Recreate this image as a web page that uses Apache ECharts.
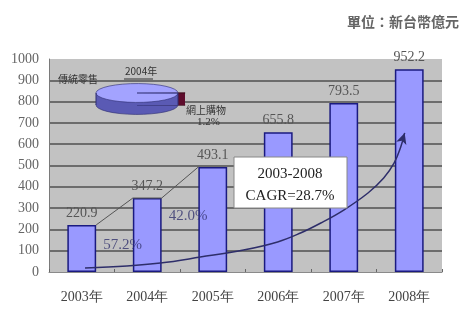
<!DOCTYPE html>
<html>
<head>
<meta charset="utf-8">
<script src="https://cdn.jsdelivr.net/npm/echarts@6/dist/echarts.min.js"></script>
<style>
html,body{margin:0;padding:0;background:#fff;}
#main{width:470px;height:315px;}
</style>
</head>
<body>
<div id="main"></div>
<script>
// 數據
var years = ['2003年', '2004年', '2005年', '2006年', '2007年', '2008年'];
var sales = [220.9, 347.2, 493.1, 655.8, 793.5, 952.2];
var growth = ['57.2%', '42.0%'];
var unitText = '單位：新台幣億元';
var pieYear = '2004年';
var pieNames = ['傳統零售', '網上購物'];
var pieShares = [98.8, 1.2];
var cagrText = ['2003-2008', 'CAGR=28.7%'];
// 趨勢箭頭
var curveX = [0.05, 0.69, 1.20, 1.81, 2.47, 2.99, 3.34, 3.65, 4.00, 4.37, 4.61, 4.77, 4.87, 4.93];
var curveY = [19, 28, 42, 70, 103, 141, 183, 230, 291, 371, 441, 512, 587, 653];

var serif = 'Liberation Serif';
var hw = 0.22; // 半個柱寬 (類別單位)

// 柱頂連線
var stepData = [];
for (var i = 0; i < growth.length; i++) {
	stepData.push([i + hw, sales[i]]);
	stepData.push([i + 1 - hw, sales[i + 1]]);
}
// 增長率標籤位置 = 連線中點
var growthPts = [];
for (var i = 0; i < growth.length; i++) {
	growthPts.push([i + 0.5, (sales[i] + sales[i + 1]) / 2]);
}
var curveData = [];
for (var i = 0; i < curveX.length; i++) {
	var item = {value: [curveX[i], curveY[i]]};
	if (i == curveX.length - 1) {
		item.symbol = 'arrow';
		item.symbolSize = [8, 11];
		item.symbolRotate = -18;
	}
	curveData.push(item);
}

var splitColors = [];
for (var i = 0; i <= 10; i++) {
	splitColors.push(i == 0 || i == 10 ? 'rgba(0,0,0,0)' : '#6c6c6c');
}

function pieItem(params, api) {
	var idx = params.dataIndex;
	var cx = 137, cy = 93, r = 41, k = 0.23, depth = 12;
	var start = pieShares[1] / 2 / 100 * Math.PI * 2;
	for (var j = 0; j < idx; j++) start += pieShares[j] / 100 * Math.PI * 2;
	var end = start + api.value(0) / 100 * Math.PI * 2;
	var big = idx == 0;
	var dx = big ? 0 : 7;
	var top = big ? '#a3a3ff' : '#8a2a4a';
	var side = big ? '#5a5ab4' : '#5e0c2c';
	var edge = big ? '#2e2e70' : '#3a0818';
	var z = big ? 10 : 1;
	var children = [
		{type: 'group', x: cx + dx, y: cy + depth, scaleY: k, children: [
			{type: 'sector', z2: z, shape: {cx: 0, cy: 0, r0: 0, r: r, startAngle: start, endAngle: end},
				style: {fill: side, stroke: edge, lineWidth: 1, strokeNoScale: true}}
		]},
		big ? {type: 'rect', z2: z, shape: {x: cx - r, y: cy, width: 2 * r, height: depth}, style: {fill: side}}
			: {type: 'rect', z2: z, shape: {x: cx + dx, y: cy, width: r, height: depth}, style: {fill: side}},
		{type: 'group', x: cx + dx, y: cy, scaleY: k, children: [
			{type: 'sector', z2: z, shape: {cx: 0, cy: 0, r0: 0, r: r, startAngle: start, endAngle: end},
				style: {fill: top, stroke: edge, lineWidth: 1, strokeNoScale: true}}
		]}
	];
	if (big) {
		children.push({type: 'line', z2: z, shape: {x1: cx - r, y1: cy, x2: cx - r, y2: cy + depth}, style: {stroke: edge, lineWidth: 1}});
		children.push({type: 'line', z2: z, shape: {x1: cx + r, y1: cy, x2: cx + r, y2: cy + depth}, style: {stroke: edge, lineWidth: 1}});
	}
	return {type: 'group', children: children};
}

option = {
	animation: false,
	backgroundColor: '#fff',
	title: {
		text: unitText,
		right: 6,
		top: 10,
		textStyle: {fontFamily: 'Noto Sans CJK TC', fontSize: 14, fontWeight: 'bold', color: '#666'}
	},
	grid: {
		left: 49, right: 28, top: 59, bottom: 43,
		show: true, backgroundColor: '#c2c2c2', borderWidth: 0
	},
	xAxis: [{
		type: 'category',
		data: years,
		axisLine: {lineStyle: {color: '#8a8a8a', width: 1}},
		axisTick: {show: true, inside: true, length: 3, lineStyle: {color: '#666'}},
		axisLabel: {margin: 18, fontFamily: serif, fontSize: 14, color: '#444'}
	}, {
		type: 'value', min: -0.5, max: 5.5, show: false
	}],
	yAxis: [{
		type: 'value',
		min: 0, max: 1000, interval: 100,
		axisLine: {show: true, onZero: false, lineStyle: {color: '#7a7a7a', width: 1}},
		axisTick: {show: false},
		axisLabel: {margin: 10, fontFamily: serif, fontSize: 14, color: '#666',
			formatter: function(v) { return String(v); }},
		splitLine: {show: true, lineStyle: {color: splitColors, width: 2}}
	}],
	series: [{
		name: '營業額',
		type: 'bar',
		data: sales,
		barWidth: '44%',
		itemStyle: {color: '#9999ff', borderColor: '#1a1a80', borderWidth: 1.5},
		label: {show: true, position: 'top', distance: 5, fontFamily: serif, fontSize: 14, color: '#555'},
		z: 2
	}, {
		name: '連線',
		type: 'line',
		xAxisIndex: 1,
		data: stepData,
		symbol: 'none',
		lineStyle: {color: '#555', width: 1},
		z: 3
	}, {
		name: '增長率',
		type: 'scatter',
		xAxisIndex: 1,
		data: growthPts,
		symbolSize: 0,
		label: {
			show: true,
			position: 'inside',
			offset: [8, 34],
			fontFamily: serif, fontSize: 15, color: '#33336e',
			formatter: function(p) { return growth[p.dataIndex]; }
		},
		z: 4
	}, {
		name: 'CAGR',
		type: 'line',
		xAxisIndex: 1,
		data: curveData,
		smooth: 0.4,
		symbol: 'none',
		lineStyle: {color: '#2e2e6a', width: 1.5},
		itemStyle: {color: '#2e2e6a'},
		z: 5
	}, {
		name: '2004年',
		type: 'custom',
		coordinateSystem: 'none',
		silent: true,
		data: pieShares.map(function(v) { return [v]; }),
		renderItem: pieItem,
		z: 6
	}],
	graphic: [
		{type: 'text', left: 125, top: 66, z: 10, style: {text: pieYear, fontFamily: 'Noto Sans CJK TC', fontSize: 10, fill: '#333'}},
		{type: 'line', z: 10, shape: {x1: 124, y1: 79, x2: 153, y2: 79}, style: {stroke: '#333', lineWidth: 1}},
		{type: 'text', left: 58, top: 74, z: 10, style: {text: pieNames[0], fontFamily: 'Noto Sans CJK TC', fontSize: 10, fill: '#333'}},
		{type: 'text', left: 186, top: 105, z: 10, style: {text: pieNames[1], fontFamily: 'Noto Sans CJK TC', fontSize: 10, fill: '#333'}},
		{type: 'text', left: 197, top: 117, z: 10, style: {text: pieShares[1].toFixed(1) + '%', fontFamily: serif, fontSize: 11, fill: '#333'}},
		{type: 'rect', z: 10, shape: {x: 234, y: 157, width: 113, height: 51}, style: {fill: '#fff', stroke: '#888', lineWidth: 1}},
		{type: 'text', z: 11, x: 290, y: 174, style: {text: cagrText[0], fontFamily: serif, fontSize: 15, fill: '#222', align: 'center', verticalAlign: 'middle'}},
		{type: 'text', z: 11, x: 290, y: 196, style: {text: cagrText[1], fontFamily: serif, fontSize: 15, fill: '#222', align: 'center', verticalAlign: 'middle'}}
	]
};

var myChart = echarts.init(document.getElementById('main'));
myChart.setOption(option);
</script>
</body>
</html>
